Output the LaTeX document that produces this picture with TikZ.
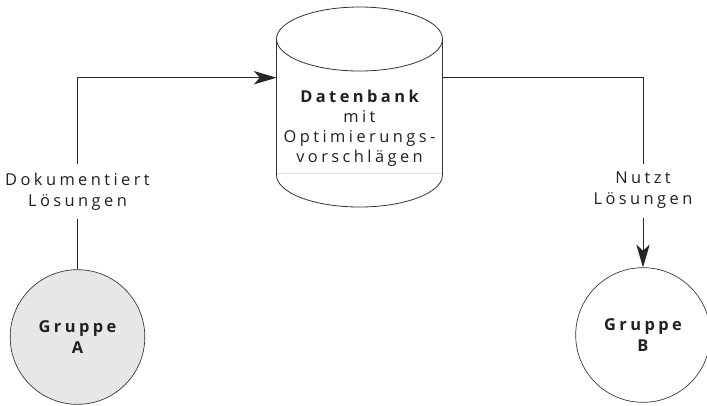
\documentclass[tikz,border=0pt]{standalone}
\usepackage{fontspec}
\setmainfont{Open Sans}
\usetikzlibrary{arrows.meta}
\definecolor{txt}{HTML}{231F20}
\definecolor{grayfill}{HTML}{E6E7E8}
\tikzset{
  lbl/.style={fill=white, align=center, inner xsep=2pt, inner ysep=6.5pt, text=txt,
    font=\fontsize{12.3}{15.75}\selectfont\addfontfeature{LetterSpace=21}},
  grp/.style={circle, draw=black!80, line width=0.5pt, minimum size=101pt, inner sep=0pt,
    align=center, text=txt, font=\fontsize{12.3}{15.75}\selectfont\bfseries\addfontfeature{LetterSpace=21}},
  conn/.style={draw=black!85, line width=0.75pt},
  tip/.style={-{Stealth[length=17pt,width=10pt,inset=4.5pt]}},
}
\begin{document}
\begin{tikzpicture}[x=0.75pt,y=-0.75pt]
\useasboundingbox (0,0) rectangle (707,405);
% cylinder
\draw[black!80, line width=0.6pt] (359.5,39) ellipse [x radius=83, y radius=32];
\draw[black!80, line width=0.6pt] (276.5,39) -- (276.5,175) arc[start angle=180, end angle=0, x radius=83, y radius=32] -- (442.5,39);
\draw[black!12, line width=0.5pt] (277,173) -- (442,173);
\node[align=center, text=txt, font=\fontsize{12.3}{15}\selectfont\addfontfeature{LetterSpace=21}] (db) at (359.5,128)
  {{\bfseries Datenbank}\\mit\\Optimierungs-\\vorschlägen};
\coordinate (dbl) at (276.5,77.7);
\coordinate (dbr) at (442.5,77.7);
% groups
\node[grp, fill=grayfill] (A) at (77.5,337) {Gruppe\\A};
\node[grp, fill=white] (B) at (643,335) {Gruppe\\B};
% connectors
\coordinate (ca) at (77.5,77.7);
\coordinate (cb) at (643,77.7);
\draw[conn, tip] (A.north) -- node[lbl, pos=0.405] {Dokumentiert\\Lösungen} (ca) -- (dbl);
\draw[conn, tip] (dbr) -- (cb) -- node[lbl, pos=0.595] {Nutzt\\Lösungen} (B.north);
\end{tikzpicture}
\end{document}
